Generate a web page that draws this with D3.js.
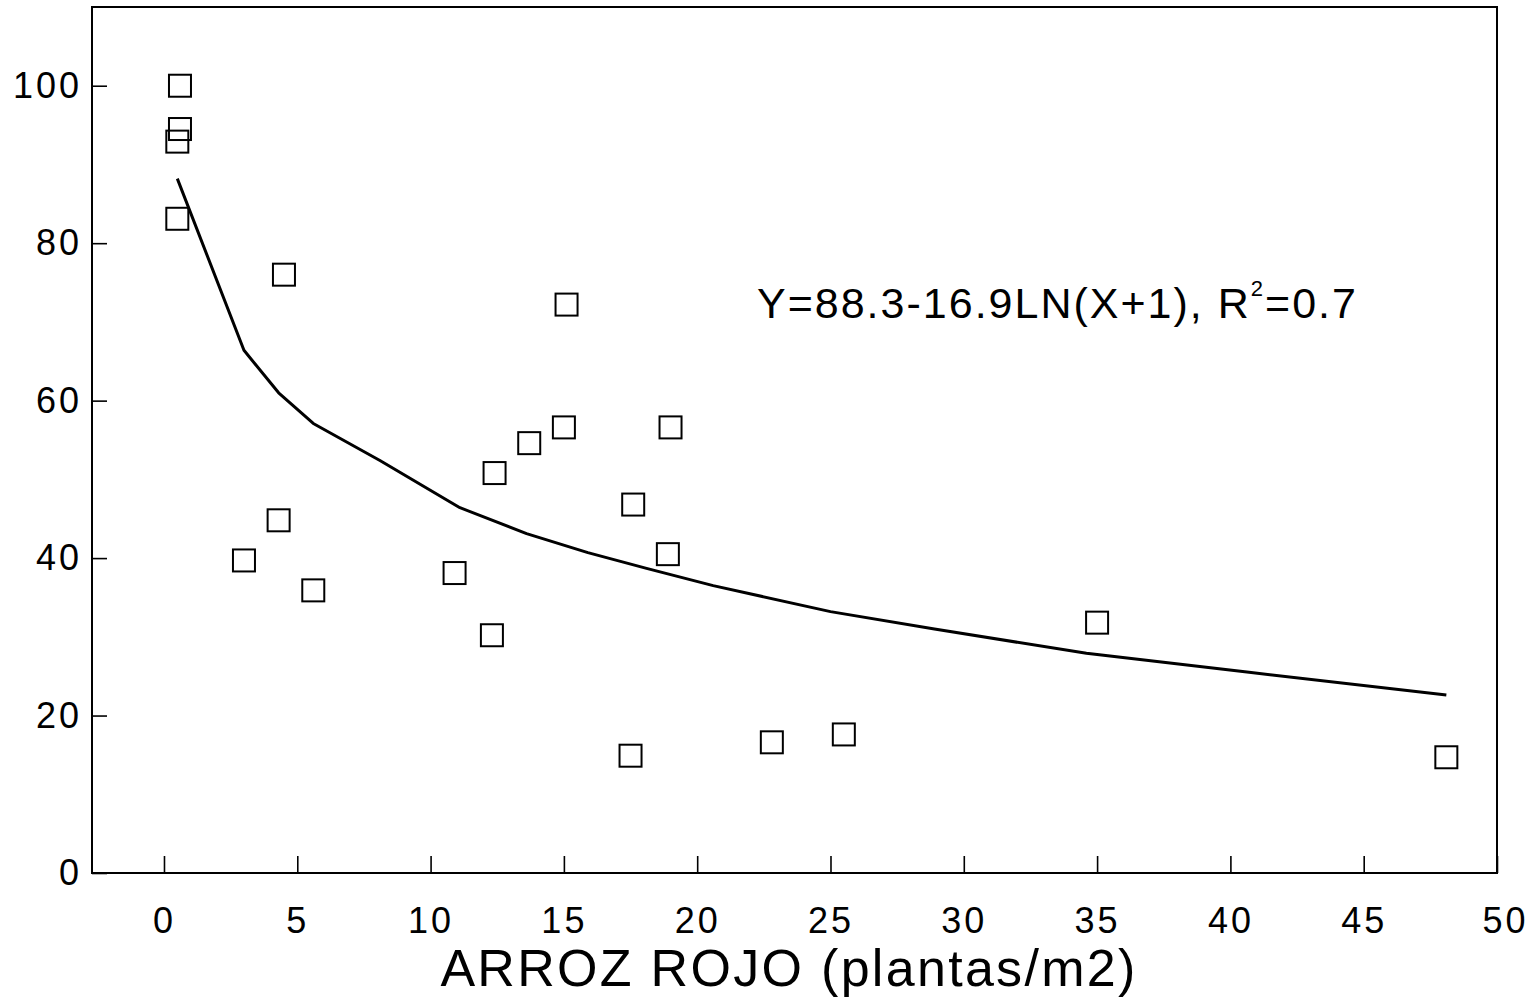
<!DOCTYPE html>
<html>
<head>
<meta charset="utf-8">
<script src="https://cdn.jsdelivr.net/npm/d3@7"></script>
<style>
  html, body { margin: 0; padding: 0; background: #fff; }
  svg { display: block; font-family: "Liberation Sans", Arial, Helvetica, sans-serif; }
</style>
</head>
<body>
<svg id="chart" width="1530" height="1007"></svg>
<script>
// Observed data: red rice density (plants/m2) vs response (%)
const densidad = [0.6, 0.6, 0.5, 0.5, 4.5, 3.0, 4.3, 5.6, 10.9, 12.3, 12.4, 13.7, 15.0, 15.1, 17.5, 17.6, 18.9, 19.0, 22.8, 25.5, 35.0, 48.1];
const respuesta = [100, 94.5, 92.9, 83.1, 76.0, 39.7, 44.8, 35.9, 38.1, 30.2, 50.8, 54.6, 56.6, 72.2, 14.9, 46.8, 40.5, 56.6, 16.6, 17.6, 31.8, 14.7];

// Fitted curve as drawn in the figure (vertices)
const curvaX = [0.5, 3.0, 4.3, 5.6, 8.1, 11.1, 13.6, 15.9, 18.1, 20.6, 25.0, 28.9, 34.6, 40.7, 48.1];
const curvaY = [88.2, 66.4, 61.0, 57.1, 52.4, 46.4, 43.1, 40.7, 38.7, 36.5, 33.2, 31.0, 27.9, 25.5, 22.6];

const xTicks = [0, 5, 10, 15, 20, 25, 30, 35, 40, 45, 50];
const yTicks = [0, 20, 40, 60, 80, 100];

const xTitle = "ARROZ ROJO (plantas/m2)";
const ecuacion = "Y=88.3-16.9LN(X+1), R";
const ecuacionSup = "2";
const ecuacionFin = "=0.7";

const svg = d3.select("#chart");
const L = 92, R = 1497, T = 7, B = 873;

const x = d3.scaleLinear().domain([-2.7, 50]).range([L, R]);
const y = d3.scaleLinear().domain([0, 110]).range([B, T]);

// frame
svg.append("rect")
  .attr("x", L).attr("y", T).attr("width", R - L).attr("height", B - T)
  .attr("fill", "none").attr("stroke", "#000").attr("stroke-width", 2);

// axes
const xAxis = svg.append("g").attr("transform", `translate(0,${B})`)
  .call(d3.axisBottom(x).tickValues(xTicks).tickSizeInner(-17).tickSizeOuter(0).tickPadding(34).tickFormat(d3.format("d")));
const yAxis = svg.append("g").attr("transform", `translate(${L},0)`)
  .call(d3.axisLeft(y).tickValues(yTicks).tickSizeInner(-15).tickSizeOuter(0).tickPadding(10).tickFormat(d3.format("d")));

[xAxis, yAxis].forEach(g => {
  g.select(".domain").remove();
  g.selectAll(".tick line").attr("stroke", "#000").attr("stroke-width", 1.6);
  g.selectAll(".tick text")
    .attr("fill", "#000")
    .style("font-size", "36px")
    .style("letter-spacing", "3px")
    .style("font-family", "'Liberation Sans', Arial, sans-serif");
});
xAxis.selectAll(".tick text").filter(d => d === 50).attr("dx", "8");

// fitted curve
const curva = curvaX.map((v, i) => [v, curvaY[i]]);
svg.append("path")
  .datum(curva)
  .attr("fill", "none")
  .attr("stroke", "#000")
  .attr("stroke-width", 3)
  .attr("stroke-linejoin", "round")
  .attr("d", d3.line().x(d => x(d[0])).y(d => y(d[1])));

// observed squares
const s = 22;
svg.append("g").selectAll("rect")
  .data(densidad.map((v, i) => [v, respuesta[i]]))
  .join("rect")
  .attr("x", d => x(d[0]) - s / 2)
  .attr("y", d => y(d[1]) - s / 2)
  .attr("width", s).attr("height", s)
  .attr("fill", "none")
  .attr("stroke", "#000")
  .attr("stroke-width", 2);

// equation annotation
const eq = svg.append("text")
  .attr("x", 757).attr("y", 318)
  .attr("fill", "#000")
  .style("font-size", "43px")
  .style("letter-spacing", "2px");
eq.append("tspan").text(ecuacion);
eq.append("tspan").attr("dy", -22).style("font-size", "22px").text(ecuacionSup);
eq.append("tspan").attr("dy", 22).text(ecuacionFin);

// x axis title
svg.append("text")
  .attr("x", 789).attr("y", 986)
  .attr("text-anchor", "middle")
  .attr("fill", "#000")
  .style("font-size", "52px")
  .style("letter-spacing", "2.3px")
  .text(xTitle);
</script>
</body>
</html>
